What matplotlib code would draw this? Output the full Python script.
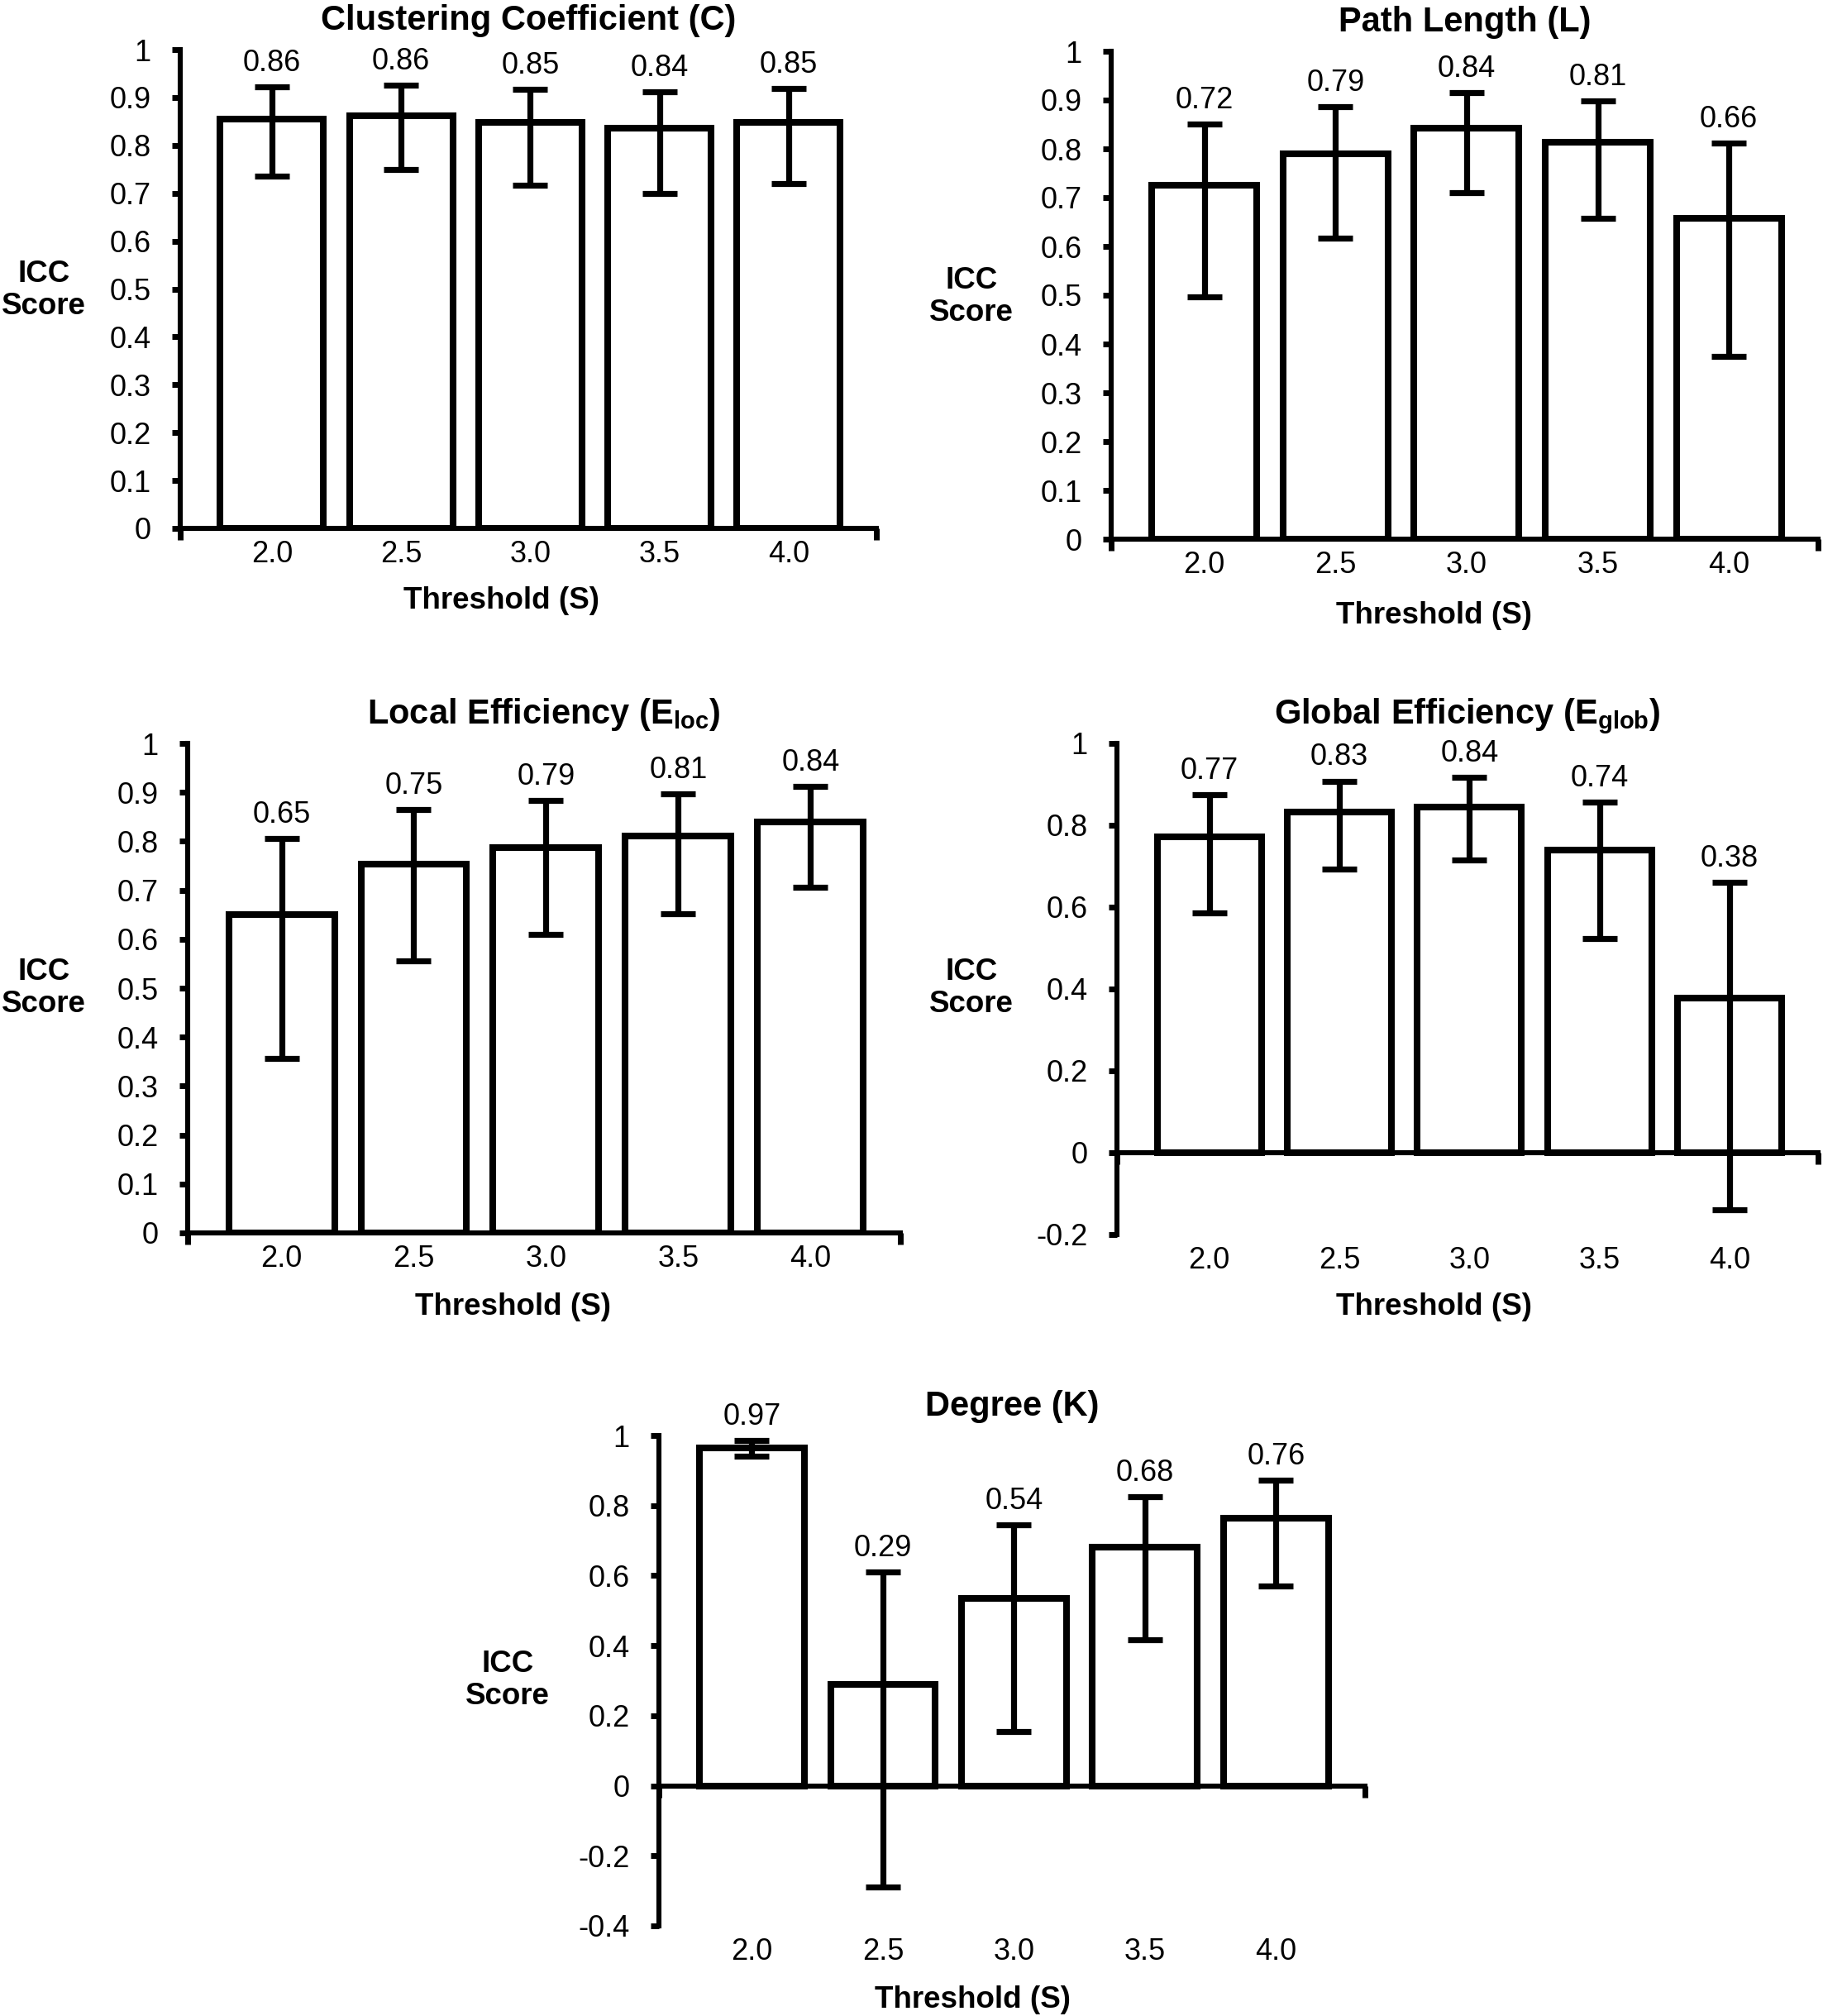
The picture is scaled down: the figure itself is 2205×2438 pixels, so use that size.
import numpy as np
import matplotlib
matplotlib.use('Agg')
import matplotlib.pyplot as plt
from matplotlib.ticker import FuncFormatter, FixedLocator

# ------------------------------------------------------------------
# 1. data
# ------------------------------------------------------------------
thresholds = ['2.0', '2.5', '3.0', '3.5', '4.0']

# Clustering Coefficient (C)
c_icc = [0.855, 0.862, 0.848, 0.836, 0.848]
c_low = [0.735, 0.750, 0.717, 0.700, 0.721]
c_high = [0.922, 0.925, 0.917, 0.912, 0.918]
c_text = ['0.86', '0.86', '0.85', '0.84', '0.85']

# Path Length (L)
l_icc = [0.725, 0.790, 0.842, 0.813, 0.657]
l_low = [0.497, 0.617, 0.710, 0.657, 0.375]
l_high = [0.851, 0.886, 0.915, 0.898, 0.812]
l_text = ['0.72', '0.79', '0.84', '0.81', '0.66']

# Local Efficiency (Eloc)
eloc_icc = [0.650, 0.754, 0.787, 0.810, 0.840]
eloc_low = [0.357, 0.555, 0.609, 0.652, 0.706]
eloc_high = [0.806, 0.865, 0.883, 0.897, 0.912]
eloc_text = ['0.65', '0.75', '0.79', '0.81', '0.84']

# Global Efficiency (Eglob)
eglob_icc = [0.772, 0.832, 0.845, 0.740, 0.378]
eglob_low = [0.585, 0.693, 0.715, 0.523, -0.140]
eglob_high = [0.875, 0.908, 0.917, 0.857, 0.660]
eglob_text = ['0.77', '0.83', '0.84', '0.74', '0.38']

# Degree (K)
k_icc = [0.965, 0.290, 0.535, 0.682, 0.763]
k_low = [0.940, -0.290, 0.155, 0.418, 0.570]
k_high = [0.985, 0.610, 0.745, 0.826, 0.872]
k_text = ['0.97', '0.29', '0.54', '0.68', '0.76']

# ------------------------------------------------------------------
# 2. style
# ------------------------------------------------------------------
plt.rcParams['font.family'] = ['Liberation Sans', 'DejaVu Sans']
plt.rcParams['axes.unicode_minus'] = False
plt.rcParams['mathtext.fontset'] = 'custom'
plt.rcParams['mathtext.rm'] = 'Liberation Sans'
plt.rcParams['mathtext.bf'] = 'Liberation Sans:bold'

W, H = 2205, 2438
fig = plt.figure(figsize=(W / 100, H / 100), dpi=100)

bar_w = 5.8
err_w = 5.2
spine_w = 4.4
tick_fs = 26
label_fs = 26.5
title_fs = 30
xlim = (-0.71, 4.68)


def px_axes(left, right, top, bottom):
    # pixel box -> figure fractions
    return fig.add_axes([left / W, 1 - bottom / H, (right - left) / W, (bottom - top) / H])


def draw_panel(ax, icc, low, high, texts, title, ymin, ystep):
    x = np.arange(len(thresholds))
    icc = np.array(icc)
    yerr = [icc - np.array(low), np.array(high) - icc]
    ax.bar(x, icc, width=0.8, color='white', edgecolor='black', linewidth=bar_w, zorder=2)
    ax.errorbar(x, icc, yerr=yerr, fmt='none', ecolor='black', elinewidth=err_w,
                capsize=15, capthick=err_w, zorder=3)
    for xi, hi, t in zip(x, high, texts):
        ax.annotate(t, (xi, hi), xytext=(0, 8), textcoords='offset points',
                    ha='center', va='bottom', fontsize=tick_fs)

    ax.set_xlim(*xlim)
    ax.set_ylim(ymin, 1)
    yt = np.round(np.arange(ymin, 1 + ystep / 2, ystep), 2)
    ax.set_yticks(yt)
    ax.yaxis.set_major_formatter(FuncFormatter(lambda v, p: f'{round(v, 2) + 0:g}'))
    ax.tick_params(axis='y', direction='out', length=7.5, width=5, labelsize=tick_fs, pad=18)

    for s in ['top', 'right']:
        ax.spines[s].set_visible(False)
    ax.spines['left'].set_linewidth(spine_w)
    ax.spines['bottom'].set_linewidth(spine_w)
    ax.spines['bottom'].set_position(('data', 0))
    ax.spines['left'].set_capstyle('projecting')

    # x axis line at zero: ticks only at both ends
    ax.set_xticks([])
    ax.xaxis.set_minor_locator(FixedLocator(list(xlim)))
    ax.tick_params(axis='x', which='minor', direction='out', length=10, width=5,
                   labelbottom=False)

    # category labels below the plot area
    sec = ax.secondary_xaxis('bottom')
    sec.set_xticks(x, labels=thresholds)
    sec.tick_params(length=0, labelsize=tick_fs, pad=10)
    sec.spines['bottom'].set_visible(False)

    ax.set_title(title, fontsize=title_fs, fontweight='bold', pad=17)
    ax.patch.set_alpha(0)


def fig_text(x, y, s, size):
    fig.text(x / W, 1 - y / H, s, ha='center', va='center', fontsize=size,
             fontweight='bold', linespacing=1.15)


# ------------------------------------------------------------------
# 3. panels
# ------------------------------------------------------------------
ax1 = px_axes(218, 1060, 60, 639)
draw_panel(ax1, c_icc, c_low, c_high, c_text, 'Clustering Coefficient (C)', 0, 0.1)
fig_text(606, 726, 'Threshold (S)', label_fs)
fig_text(53, 351, 'ICC\nScore', label_fs)

ax2 = px_axes(1344, 2199, 62, 652)
draw_panel(ax2, l_icc, l_low, l_high, l_text, 'Path Length (L)', 0, 0.1)
fig_text(1734, 744, 'Threshold (S)', label_fs)
fig_text(1175, 359, 'ICC\nScore', label_fs)

ax3 = px_axes(227, 1089, 899, 1491)
draw_panel(ax3, eloc_icc, eloc_low, eloc_high, eloc_text,
           r'Local Efficiency ($\mathbf{E}_{\mathbf{loc}}$)', 0, 0.1)
fig_text(620, 1581, 'Threshold (S)', label_fs)
fig_text(53, 1195, 'ICC\nScore', label_fs)

ax4 = px_axes(1351, 2199, 899, 1493)
draw_panel(ax4, eglob_icc, eglob_low, eglob_high, eglob_text,
           r'Global Efficiency ($\mathbf{E}_{\mathbf{glob}}$)', -0.2, 0.2)
fig_text(1734, 1580, 'Threshold (S)', label_fs)
fig_text(1175, 1195, 'ICC\nScore', label_fs)

ax5 = px_axes(797, 1651, 1736, 2329)
draw_panel(ax5, k_icc, k_low, k_high, k_text, 'Degree (K)', -0.4, 0.2)
fig_text(1177, 2418, 'Threshold (S)', label_fs)
fig_text(614, 2032, 'ICC\nScore', label_fs)

fig.savefig('out.png', dpi=100, facecolor='white')
